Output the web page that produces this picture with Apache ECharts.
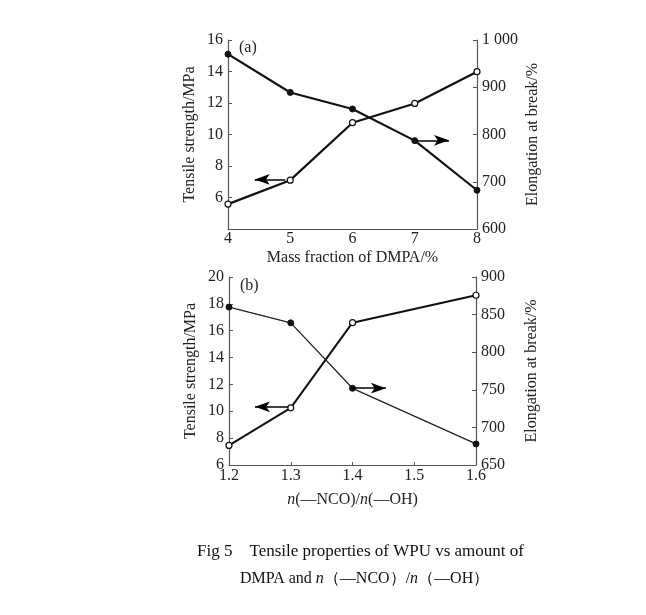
<!DOCTYPE html>
<html>
<head>
<meta charset="utf-8">
<script src="https://cdn.jsdelivr.net/npm/echarts@6/dist/echarts.min.js"></script>
<style>html,body{margin:0;padding:0;background:#fff}#c{width:646px;height:615px}</style>
</head>
<body>
<div id="c"></div>
<script>
// Panel (a)
var dmpa = [4, 5, 6, 7, 8];
var tensileA = [5.58, 7.1, 10.75, 11.97, 13.99];
var elongA = [970, 889, 854, 787, 682];
// Panel (b)
var ratio = [1.2, 1.3, 1.4, 1.6];
var tensileB = [7.46, 10.26, 16.6, 18.64];
var elongB = [860, 839, 752, 678];
// Tick labels
var xTicksA = [4, 5, 6, 7, 8];
var leftTicksA = [4, 6, 8, 10, 12, 14, 16];
var rightTicksA = ['600', '700', '800', '900', '1 000'];
var xTicksB = ['1.2', '1.3', '1.4', '1.5', '1.6'];
var leftTicksB = [6, 8, 10, 12, 14, 16, 18, 20];
var rightTicksB = [650, 700, 750, 800, 850, 900];
// Arrow annotations (data units: [x1, y1, x2, y2] on left axis)
var arrowA_left = [4.92, 7.15, 4.43, 7.15];
var arrowA_right = [7.03, 9.63, 7.55, 9.63];
var arrowB_left = [1.296, 10.33, 1.242, 10.33];
var arrowB_right = [1.40, 11.72, 1.454, 11.72];

var FONT = 'Liberation Serif';
var axisColor = '#555';
function zip(xs, ys) { return xs.map(function (x, i) { return [x, ys[i]]; }); }
function arrowLine(a) {
  return {
    silent: true, animation: false,
    symbol: ['none', 'arrow'], symbolSize: [8, 15],
    lineStyle: { color: '#000', width: 1.5, type: 'solid' },
    label: { show: false },
    data: [[{ coord: [a[0], a[1]] }, { coord: [a[2], a[3]] }]]
  };
}
function yAx(gi, min, max, interval, labels, pos, name, showMin) {
  return {
    type: 'value', gridIndex: gi, position: pos, min: min, max: max, interval: interval,
    name: name, nameLocation: 'middle', nameRotate: 90,
    nameGap: pos === 'left' ? 30 : 48,
    nameTextStyle: { fontFamily: FONT, fontSize: 16, color: '#222' },
    axisLine: { show: true, lineStyle: { color: axisColor, width: 1.2 } },
    axisTick: { show: true, inside: true, length: 4, lineStyle: { color: axisColor } },
    splitLine: { show: false },
    axisLabel: {
      fontFamily: FONT, fontSize: 16, color: '#222', margin: 5, showMinLabel: showMin,
      formatter: function (v) { return String(labels[Math.round((v - min) / interval)]); }
    }
  };
}
var option = {
  animation: false,
  backgroundColor: '#fff',
  grid: [
    { left: 228, right: 169, top: 40, height: 189 },
    { left: 229, right: 170, top: 277, height: 188 }
  ],
  xAxis: [
    {
      type: 'value', gridIndex: 0, min: 4, max: 8, interval: 1,
      name: 'Mass fraction of DMPA/%', nameLocation: 'middle', nameGap: 21,
      nameTextStyle: { fontFamily: FONT, fontSize: 16, color: '#222' },
      axisLine: { lineStyle: { color: axisColor, width: 1.2 } },
      axisTick: { show: false },
      splitLine: { show: false },
      axisLabel: { fontFamily: FONT, fontSize: 16, color: '#222', margin: 2,
        formatter: function (v) { return String(xTicksA[Math.round(v - 4)]); } }
    },
    {
      type: 'value', gridIndex: 1, min: 1.2, max: 1.6, interval: 0.1,
      name: '{i|n}(—NCO)/{i|n}(—OH)', nameLocation: 'middle', nameGap: 27,
      nameTextStyle: { fontFamily: FONT, fontSize: 16, color: '#222',
        rich: { i: { fontFamily: FONT, fontStyle: 'italic', fontSize: 16, color: '#222' } } },
      axisLine: { lineStyle: { color: axisColor, width: 1.2 } },
      axisTick: { show: true, inside: true, length: 3, lineStyle: { color: axisColor } },
      splitLine: { show: false },
      axisLabel: { fontFamily: FONT, fontSize: 16, color: '#222', margin: 3,
        formatter: function (v) { return xTicksB[Math.round((v - 1.2) * 10)]; } }
    }
  ],
  yAxis: [
    yAx(0, 4, 16, 2, leftTicksA, 'left', 'Tensile strength/MPa', false),
    yAx(0, 600, 1000, 100, rightTicksA, 'right', 'Elongation at break/%', true),
    yAx(1, 6, 20, 2, leftTicksB, 'left', 'Tensile strength/MPa', true),
    yAx(1, 650, 900, 50, rightTicksB, 'right', 'Elongation at break/%', true)
  ],
  series: [
    { type: 'line', xAxisIndex: 0, yAxisIndex: 0, data: zip(dmpa, tensileA),
      symbol: 'circle', symbolSize: 6, lineStyle: { color: '#111', width: 2.2 },
      itemStyle: { color: '#fff', borderColor: '#111', borderWidth: 1.2 }, z: 3 },
    { type: 'line', xAxisIndex: 0, yAxisIndex: 1, data: zip(dmpa, elongA),
      symbol: 'circle', symbolSize: 6, lineStyle: { color: '#111', width: 2.2 },
      itemStyle: { color: '#111', borderColor: '#111' }, z: 3 },
    { type: 'line', xAxisIndex: 1, yAxisIndex: 2, data: zip(ratio, tensileB),
      symbol: 'circle', symbolSize: 6, lineStyle: { color: '#111', width: 2.0 },
      itemStyle: { color: '#fff', borderColor: '#111', borderWidth: 1.2 }, z: 3 },
    { type: 'line', xAxisIndex: 1, yAxisIndex: 3, data: zip(ratio, elongB),
      symbol: 'circle', symbolSize: 6, lineStyle: { color: '#222', width: 1.3 },
      itemStyle: { color: '#111', borderColor: '#111' }, z: 3 },
    // arrows
    { type: 'line', xAxisIndex: 0, yAxisIndex: 0, data: [], markLine: arrowLine(arrowA_left) },
    { type: 'line', xAxisIndex: 0, yAxisIndex: 0, data: [], markLine: arrowLine(arrowA_right) },
    { type: 'line', xAxisIndex: 1, yAxisIndex: 2, data: [], markLine: arrowLine(arrowB_left) },
    { type: 'line', xAxisIndex: 1, yAxisIndex: 2, data: [], markLine: arrowLine(arrowB_right) }
  ],
  graphic: [
    { type: 'text', left: 239, top: 40, style: { text: '(a)', font: '16px "Liberation Serif"', fill: '#222' } },
    { type: 'text', left: 240, top: 278, style: { text: '(b)', font: '16px "Liberation Serif"', fill: '#222' } },
    { type: 'text', left: 197, top: 543, style: {
        text: 'Fig 5    Tensile properties of WPU vs amount of',
        font: '17px "Liberation Serif"', fill: '#111' } },
    { type: 'text', left: 240, top: 571, style: {
        text: 'DMPA and {i|n}（—NCO）/{i|n}（—OH）',
        font: '16px "Liberation Serif"', fill: '#111',
        rich: { i: { fontFamily: FONT, fontStyle: 'italic', fontSize: 16, fill: '#111' } } } }
  ]
};
var chart = echarts.init(document.getElementById('c'));
chart.setOption(option);
</script>
</body>
</html>
